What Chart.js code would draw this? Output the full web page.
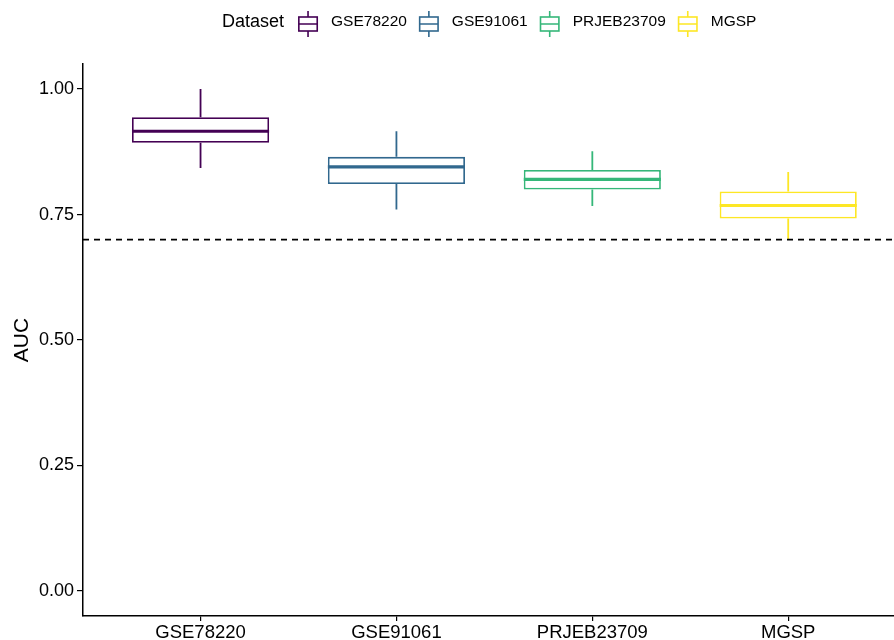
<!DOCTYPE html>
<html>
<head>
<meta charset="utf-8">
<script src="https://cdn.jsdelivr.net/npm/chart.js@4.4.1/dist/chart.umd.min.js"></script>
<style>
  body { margin: 0; background: #fff; }
  #wrap { width: 894px; height: 640px; position: relative; }
</style>
</head>
<body>
<div id="wrap"><canvas id="chart"></canvas></div>
<script>
// boxplot summary per dataset
var categories = ["GSE78220", "GSE91061", "PRJEB23709", "MGSP"];
var colors = ["#440154", "#31688E", "#35B779", "#FDE725"];
var whiskerLow = [0.843, 0.760, 0.767, 0.700];
var q1 = [0.893, 0.811, 0.800, 0.742];
var median = [0.916, 0.845, 0.820, 0.768];
var q3 = [0.944, 0.865, 0.839, 0.796];
var whiskerHigh = [1.000, 0.916, 0.876, 0.835];
var yTicks = [0, 0.25, 0.5, 0.75, 1.0];
var cutoff = 0.7;

var fontFamily = '"Liberation Sans", Arial, Helvetica, sans-serif';

// boxes as floating bars
var boxData = [];
for (var i = 0; i < categories.length; i++) {
    boxData.push({ x: i + 1, y: [q1[i], q3[i]] });
}

// whiskers, medians and the cutoff line
var boxExtras = {
    id: "boxExtras",
    afterDatasetsDraw: function(chart) {
        var ctx = chart.ctx;
        var y = chart.scales.y;
        var area = chart.chartArea;
        var meta = chart.getDatasetMeta(0);
        ctx.save();
        for (var i = 0; i < meta.data.length; i++) {
            var bar = meta.data[i];
            var half = bar.width / 2;
            ctx.strokeStyle = colors[i];
            ctx.lineWidth = 1.8;
            ctx.beginPath();
            ctx.moveTo(bar.x, y.getPixelForValue(q3[i]));
            ctx.lineTo(bar.x, y.getPixelForValue(whiskerHigh[i]));
            ctx.moveTo(bar.x, y.getPixelForValue(q1[i]));
            ctx.lineTo(bar.x, y.getPixelForValue(whiskerLow[i]));
            ctx.stroke();
            var ym = y.getPixelForValue(median[i]);
            ctx.lineWidth = 3.2;
            ctx.beginPath();
            ctx.moveTo(bar.x - half, ym);
            ctx.lineTo(bar.x + half, ym);
            ctx.stroke();
        }
        // dashed cutoff
        var yc = y.getPixelForValue(cutoff);
        ctx.strokeStyle = "#000";
        ctx.lineWidth = 1.6;
        ctx.setLineDash([6, 5]);
        ctx.beginPath();
        ctx.moveTo(area.left, yc);
        ctx.lineTo(area.right, yc);
        ctx.stroke();
        ctx.restore();
    }
};

// ggplot style legend on top
var boxLegend = {
    id: "boxLegend",
    afterDraw: function(chart) {
        var ctx = chart.ctx;
        ctx.save();
        ctx.textBaseline = "middle";
        ctx.fillStyle = "#000";
        ctx.font = "18px " + fontFamily;
        var x = 222, cy = 22;
        ctx.fillText("Dataset", x, cy);
        x += ctx.measureText("Dataset").width + 14;
        ctx.font = "15.5px " + fontFamily;
        for (var i = 0; i < categories.length; i++) {
            ctx.strokeStyle = colors[i];
            ctx.lineWidth = 1.6;
            ctx.strokeRect(x + 0.8, 17, 18.4, 14);
            ctx.beginPath();
            ctx.moveTo(x + 10, 11); ctx.lineTo(x + 10, 17);
            ctx.moveTo(x + 10, 31); ctx.lineTo(x + 10, 37);
            ctx.moveTo(x + 0.8, 24); ctx.lineTo(x + 19.2, 24);
            ctx.stroke();
            x += 20 + 13;
            ctx.fillStyle = "#000";
            ctx.fillText(categories[i], x, cy);
            x += ctx.measureText(categories[i]).width + 12;
        }
        ctx.restore();
    }
};

var ctx = document.getElementById("chart").getContext("2d");
var chart = new Chart(ctx, {
    type: "bar",
    data: {
        datasets: [{
            label: "Dataset",
            data: boxData,
            backgroundColor: "#ffffff",
            borderColor: colors,
            borderWidth: 1.8,
            borderSkipped: false,
            barPercentage: 0.70,
            categoryPercentage: 1.0
        }]
    },
    plugins: [boxExtras, boxLegend],
    options: {
        responsive: true,
        maintainAspectRatio: false,
        animation: false,
        layout: { padding: { top: 64, right: 0, bottom: 0, left: 0 } },
        plugins: {
            legend: { display: false },
            tooltip: { enabled: false }
        },
        scales: {
            x: {
                type: "linear",
                offset: false,
                min: 0.4,
                max: 4.54,
                afterBuildTicks: function(scale) {
                    scale.ticks = categories.map(function(c, i) { return { value: i + 1 }; });
                },
                afterFit: function(scale) { scale.height = 24; },
                ticks: {
                    autoSkip: false,
                    maxRotation: 0,
                    padding: 1,
                    color: "#000",
                    font: { family: fontFamily, size: 18.5 },
                    callback: function(v) { return categories[v - 1]; }
                },
                grid: { display: true, offset: false, drawOnChartArea: false, drawTicks: true, tickLength: 5, color: "#000", lineWidth: 1.2 },
                border: { display: true, color: "#000", width: 1.5 }
            },
            y: {
                min: -0.05,
                max: 1.05,
                afterBuildTicks: function(scale) {
                    scale.ticks = yTicks.map(function(v) { return { value: v }; });
                },
                afterFit: function(scale) { scale.width = 83; },
                ticks: {
                    padding: 3,
                    color: "#000",
                    font: { family: fontFamily, size: 18 },
                    callback: function(v) { return v.toFixed(2); }
                },
                grid: { display: true, drawOnChartArea: false, drawTicks: true, tickLength: 6, color: "#000", lineWidth: 1.2 },
                border: { display: true, color: "#000", width: 1.5 },
                title: {
                    display: true,
                    text: "AUC",
                    color: "#000",
                    font: { family: fontFamily, size: 21 },
                    padding: { top: 10, bottom: 0 }
                }
            }
        }
    }
});
</script>
</body>
</html>
